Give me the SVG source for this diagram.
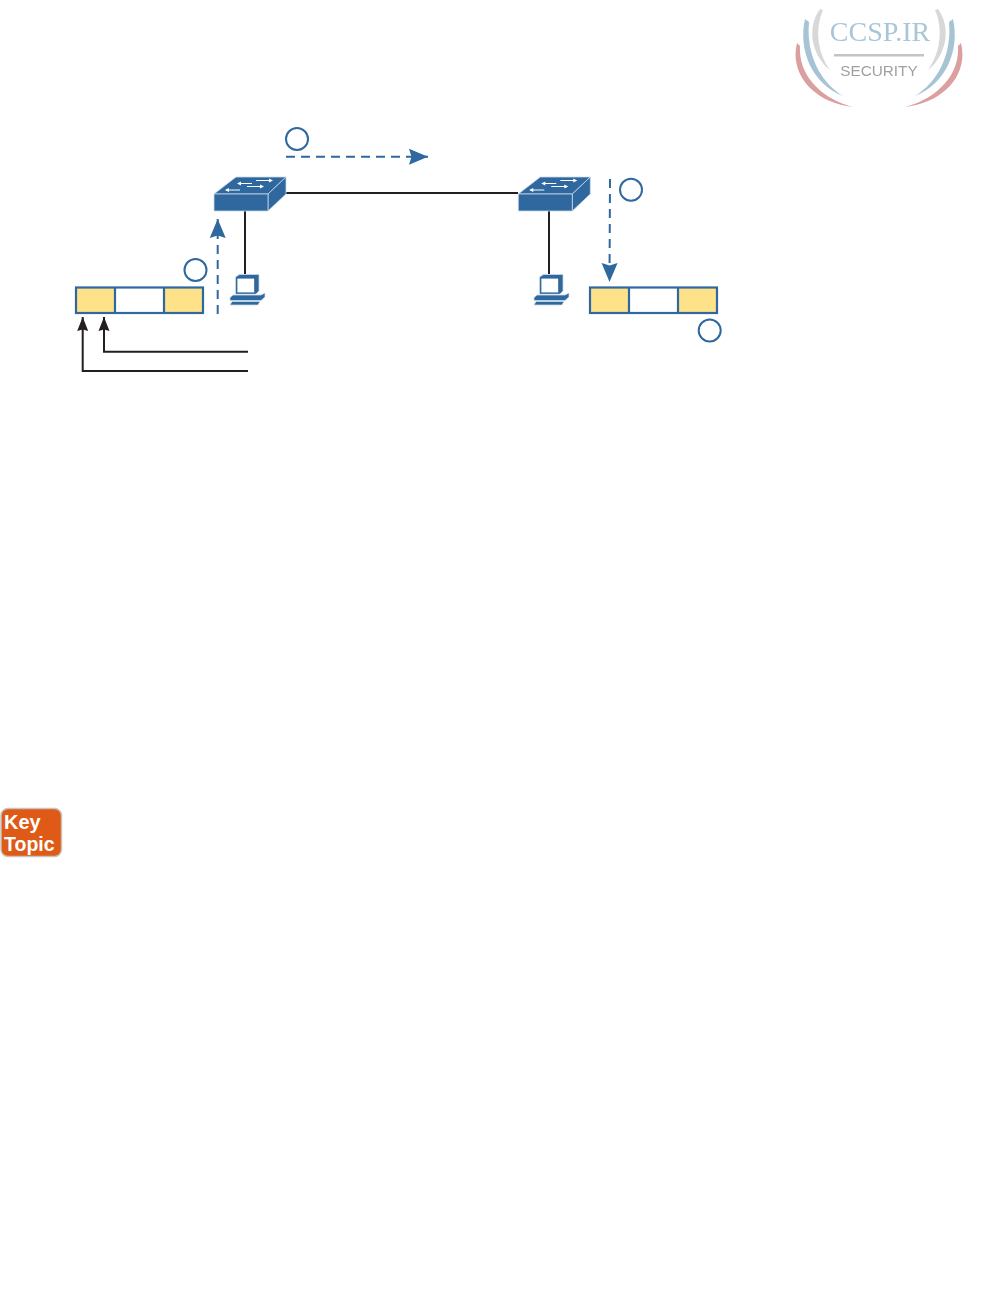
<svg xmlns="http://www.w3.org/2000/svg" width="991" height="1314" viewBox="0 0 991 1314">
<style>
.frame{fill:none;stroke:#2f689e;stroke-width:2.2}
.cell{fill:#fde28a}
.step{fill:none;stroke:#2f689e;stroke-width:2}
.dash{fill:none;stroke:#2f689e;stroke-width:2;stroke-dasharray:9 6}
.wire{fill:none;stroke:#231f20;stroke-width:2}
.blue{fill:#2f689e}
.lite{stroke:#c9d9e8;stroke-width:.8;stroke-linejoin:round}
.glyph{fill:none;stroke:#fff;stroke-width:1}
</style>
<defs>
<filter id="soft" x="-5%" y="-5%" width="110%" height="110%"><feGaussianBlur stdDeviation="0.5"/></filter>
<marker id="bh" markerUnits="userSpaceOnUse" markerWidth="20" markerHeight="18" refX="19" refY="9" orient="auto"><path d="M0 1L19 9L0 17L2.500 9Z" class="blue"/></marker>
<marker id="kh" markerUnits="userSpaceOnUse" markerWidth="15" markerHeight="12" refX="14" refY="6" orient="auto"><path d="M0 .5L14 6L0 11.5L1.500 6Z" fill="#231f20"/></marker>
<g id="switch">
<path class="blue lite" d="M214 194L236 177H286L268 194Z"/>
<path class="blue lite" d="M268 194L286 177V194L268 211Z"/>
<rect class="blue lite" x="214" y="194" width="54" height="17"/>
<path class="glyph" d="M238 183.500H252M256 180.500H270M226 190H240M247 186.500H261"/>
<path fill="#fff" d="M237 183.500L241 181.500V185.500ZM273 180.500L269 178.500V182.500ZM225 190L229 188V192ZM264 186.500L260 184.500V188.500Z"/>
</g>
<g id="pc">
<path class="blue lite" d="M235.500 277L239.500 274.500H259V291L256 294H235.500Z"/>
<rect x="236.800" y="278" width="18" height="15" fill="#fff" stroke="#2f689e" stroke-width="1.200"/>
<path class="blue lite" d="M233 295H261L265 293V297L261 300.500H230V297.500Z"/>
<path class="blue lite" d="M232 301.500H260L258 305H230Z"/>
</g>
</defs>
<g id="logo" filter="url(#soft)">
<g id="logo-arcs">
<path fill="#a7c4d4" d="M805 19C798 50 812 84 843 96C820 82 806 54 809 22Z"/>
<path fill="#dc9f9f" d="M797 43C789 75 815 103 853 107C825 100 798 78 800 46Z"/>
<path fill="#d8d8d8" d="M820 9C806 28 812 56 830 70C817 52 815 28 823 10Z"/>
<path fill="#a7c4d4" d="M953 19C960 50 946 84 915 96C938 82 952 54 949 22Z"/>
<path fill="#dc9f9f" d="M961 43C969 75 943 103 905 107C933 100 960 78 958 46Z"/>
<path fill="#d8d8d8" d="M938 9C952 28 946 56 928 70C941 52 943 28 935 10Z"/>
</g>
<text x="880" y="41" text-anchor="middle" font-family="'Liberation Serif',serif" font-size="28" fill="#a9c6d6">CCSP.IR</text>
<rect x="834" y="54" width="90" height="2.500" fill="#c4c4c4"/>
<text x="879" y="76" text-anchor="middle" font-family="'Liberation Sans',sans-serif" font-size="15.300" fill="#a0a0a0">SECURITY</text>
</g>
<g id="connectors">
<path class="wire" d="M286 193H518"/>
<path class="wire" d="M245 211V274"/>
<path class="wire" d="M549 211V274"/>
<path class="wire" marker-end="url(#kh)" d="M248 371H82.700V317"/>
<path class="wire" marker-end="url(#kh)" d="M248 351.700H104V317"/>
<path class="dash" marker-end="url(#bh)" d="M286 156.700H428"/>
<path class="dash" marker-end="url(#bh)" d="M217.700 314V219"/>
<path class="dash" marker-end="url(#bh)" d="M610 179L609.500 282"/>
</g>
<g id="switch-left"><use href="#switch"/></g>
<g id="switch-right"><use href="#switch" transform="translate(304.300 0)"/></g>
<g id="pc-left"><use href="#pc"/></g>
<g id="pc-right"><use href="#pc" transform="translate(304 0)"/></g>
<g id="frame-left">
<rect class="cell" x="76" y="287.500" width="39" height="25.500"/>
<rect class="cell" x="164" y="287.500" width="39" height="25.500"/>
<rect class="frame" x="76" y="287.500" width="127" height="25.500"/>
<path class="frame" d="M115 287.500V313M164 287.500V313"/>
</g>
<g id="frame-right">
<rect class="cell" x="590" y="287.500" width="39" height="25.500"/>
<rect class="cell" x="678" y="287.500" width="39" height="25.500"/>
<rect class="frame" x="590" y="287.500" width="127" height="25.500"/>
<path class="frame" d="M629 287.500V313M678 287.500V313"/>
</g>
<g id="step-top"><circle class="step" cx="297" cy="139" r="11"/></g>
<g id="step-left"><circle class="step" cx="195.500" cy="270" r="11"/></g>
<g id="step-right"><circle class="step" cx="631" cy="189.700" r="11"/></g>
<g id="step-bottom"><circle class="step" cx="709.700" cy="330.500" r="11"/></g>
<g id="key-topic">
<rect x="1" y="808.500" width="60.500" height="48" rx="7" fill="#de5a16" stroke="#c9c4bc" stroke-width="1.500"/>
<text x="4" y="828.500" font-family="'Liberation Sans',sans-serif" font-weight="700" font-size="20" fill="#fff">Key</text>
<text x="4" y="850.500" font-family="'Liberation Sans',sans-serif" font-weight="700" font-size="19.500" fill="#fff">Topic</text>
</g>
</svg>
